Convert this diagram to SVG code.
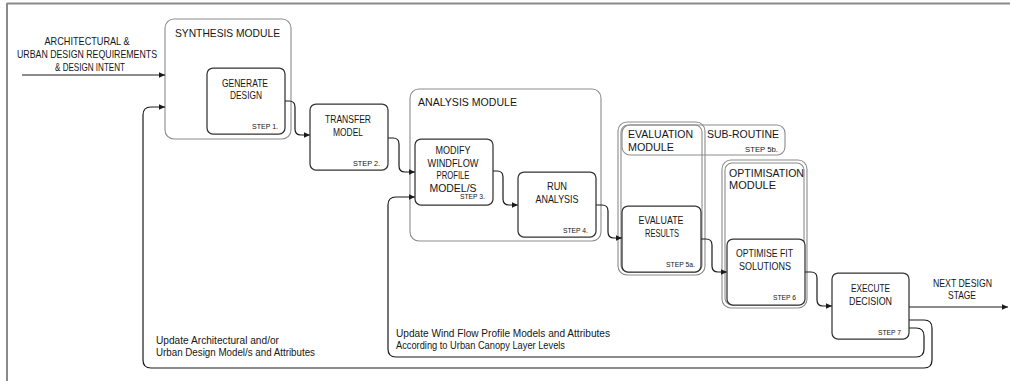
<svg xmlns="http://www.w3.org/2000/svg" width="1010" height="381" viewBox="0 0 1010 381">
<defs>
<marker id="ah" markerUnits="userSpaceOnUse" markerWidth="7" markerHeight="6" refX="6" refY="2.75" orient="auto">
<path d="M0,0 L6,2.75 L0,5.5 z" fill="#1a1a1a"/>
</marker>
<style>
.mod{fill:none;stroke:#8c8c8c;stroke-width:1.1}
.box{fill:#fff;stroke:#333;stroke-width:1.25}
.con{fill:none;stroke:#1a1a1a;stroke-width:1.2;marker-end:url(#ah)}
text{font-family:"Liberation Sans",Arial,sans-serif;fill:#161616}
.t{font-size:11.5px}
.m{font-size:11px;text-anchor:middle}
.s{font-size:7.5px;text-anchor:end}
.in{font-size:10.5px;text-anchor:middle}
.b{font-size:10px}
</style>
</defs>
<g id="frame">
<line x1="7" y1="3.5" x2="1010" y2="3.5" stroke="#8a8a8a" stroke-width="2"/>
<line x1="7" y1="3" x2="7" y2="381" stroke="#8a8a8a" stroke-width="2"/>
</g>
<g id="input-label">
<text class="in" x="87" y="45" textLength="85" lengthAdjust="spacingAndGlyphs">ARCHITECTURAL &amp;</text>
<text class="in" x="87" y="58" textLength="140" lengthAdjust="spacingAndGlyphs">URBAN DESIGN REQUIREMENTS</text>
<text class="in" x="90" y="70.5" textLength="70" lengthAdjust="spacingAndGlyphs">&amp; DESIGN INTENT</text>
</g>
<g id="synthesis-module">
<rect class="mod" x="165" y="19" width="126" height="120" rx="9"/>
<text class="t" x="175" y="37" textLength="105" lengthAdjust="spacingAndGlyphs">SYNTHESIS MODULE</text>
</g>
<g id="analysis-module">
<rect class="mod" x="410" y="89" width="191" height="152" rx="9"/>
<text class="t" x="418" y="106" textLength="99" lengthAdjust="spacingAndGlyphs">ANALYSIS MODULE</text>
</g>
<g id="evaluation-module">
<rect class="mod" x="618" y="122" width="87" height="153" rx="9"/>
<rect class="mod" x="621" y="125" width="81" height="147" rx="7"/>
<text class="t" x="628" y="137.5" textLength="65" lengthAdjust="spacingAndGlyphs">EVALUATION</text>
<text class="t" x="628" y="150.5" textLength="46" lengthAdjust="spacingAndGlyphs">MODULE</text>
</g>
<g id="sub-routine">
<rect class="mod" x="622" y="125" width="163" height="30" rx="8"/>
<text class="t" x="707" y="137.5" textLength="72" lengthAdjust="spacingAndGlyphs">SUB-ROUTINE</text>
<text class="s" x="778" y="151.5" textLength="33" lengthAdjust="spacingAndGlyphs">STEP 5b.</text>
</g>
<g id="optimisation-module">
<rect class="mod" x="722" y="160" width="85" height="148" rx="9"/>
<rect class="mod" x="725" y="163" width="79" height="142" rx="7"/>
<text class="t" x="729" y="176.5" textLength="75" lengthAdjust="spacingAndGlyphs">OPTIMISATION</text>
<text class="t" x="729" y="188.5" textLength="47" lengthAdjust="spacingAndGlyphs">MODULE</text>
</g>
<g id="connectors">
<path class="con" d="M22,75 H165"/>
<path class="con" d="M285,101 H289 Q295,101 295,107 V129 Q295,135 301,135 H310"/>
<path class="con" d="M388,138 H393 Q399,138 399,144 V166 Q399,172 405,172 H415"/>
<path class="con" d="M493,171 H497 Q503,171 503,177 V199 Q503,205 509,205 H518"/>
<path class="con" d="M596,205 H602 Q608,205 608,211 V232 Q608,238 614,238 H622"/>
<path class="con" d="M701,239 H706 Q712,239 712,245 V266 Q712,272 718,272 H727"/>
<path class="con" d="M805,272 H811 Q817,272 817,278 V300 Q817,306 823,306 H832"/>
<path class="con" d="M909,307 H1008"/>
<path class="con" d="M909,320 H924 Q932,320 932,328 V360 Q932,368 924,368 H151 Q143,368 143,360 V115 Q143,107 151,107 H165"/>
<path class="con" d="M909,328 H916 Q924,328 924,336 V349 Q924,357 916,357 H396 Q388,357 388,349 V205 Q388,197 396,197 H415"/>
</g>
<g id="step1-generate-design">
<rect class="box" x="207" y="68" width="78" height="66" rx="6"/>
<text class="m" x="245" y="87.3" textLength="46" lengthAdjust="spacingAndGlyphs">GENERATE</text>
<text class="m" x="246" y="99.3" textLength="32" lengthAdjust="spacingAndGlyphs">DESIGN</text>
<text class="s" x="278" y="129" textLength="26" lengthAdjust="spacingAndGlyphs">STEP 1.</text>
</g>
<g id="step2-transfer-model">
<rect class="box" x="310" y="104" width="78" height="66" rx="6"/>
<text class="m" x="348" y="123" textLength="46" lengthAdjust="spacingAndGlyphs">TRANSFER</text>
<text class="m" x="348" y="135.5" textLength="30" lengthAdjust="spacingAndGlyphs">MODEL</text>
<text class="s" x="380" y="165.5" textLength="27" lengthAdjust="spacingAndGlyphs">STEP 2.</text>
</g>
<g id="step3-modify">
<rect class="box" x="415" y="139" width="78" height="66" rx="6"/>
<text class="m" x="453" y="154" textLength="35" lengthAdjust="spacingAndGlyphs">MODIFY</text>
<text class="m" x="453" y="166.7" textLength="51" lengthAdjust="spacingAndGlyphs">WINDFLOW</text>
<text class="m" x="453" y="179" textLength="33" lengthAdjust="spacingAndGlyphs">PROFILE</text>
<text class="m" x="453" y="192.3" textLength="47" lengthAdjust="spacingAndGlyphs">MODEL/S</text>
<text class="s" x="485" y="199.3" textLength="25" lengthAdjust="spacingAndGlyphs">STEP 3.</text>
</g>
<g id="step4-run-analysis">
<rect class="box" x="518" y="172" width="78" height="65" rx="6"/>
<text class="m" x="557" y="190" textLength="20" lengthAdjust="spacingAndGlyphs">RUN</text>
<text class="m" x="557" y="203.3" textLength="43" lengthAdjust="spacingAndGlyphs">ANALYSIS</text>
<text class="s" x="588" y="232.7" textLength="25" lengthAdjust="spacingAndGlyphs">STEP 4.</text>
</g>
<g id="step5a-evaluate-results">
<rect class="box" x="622" y="206" width="79" height="66" rx="6"/>
<text class="m" x="661" y="224.3" textLength="45" lengthAdjust="spacingAndGlyphs">EVALUATE</text>
<text class="m" x="662" y="237" textLength="34" lengthAdjust="spacingAndGlyphs">RESULTS</text>
<text class="s" x="695" y="267" textLength="29" lengthAdjust="spacingAndGlyphs">STEP 5a.</text>
</g>
<g id="step6-optimise">
<rect class="box" x="727" y="239" width="78" height="66" rx="6"/>
<text class="m" x="764.5" y="257.3" textLength="57" lengthAdjust="spacingAndGlyphs">OPTIMISE FIT</text>
<text class="m" x="765" y="270" textLength="52" lengthAdjust="spacingAndGlyphs">SOLUTIONS</text>
<text class="s" x="796" y="300" textLength="23" lengthAdjust="spacingAndGlyphs">STEP 6</text>
</g>
<g id="step7-execute">
<rect class="box" x="832" y="273" width="77" height="66" rx="6"/>
<text class="m" x="870.5" y="292" textLength="39" lengthAdjust="spacingAndGlyphs">EXECUTE</text>
<text class="m" x="870.5" y="305" textLength="43" lengthAdjust="spacingAndGlyphs">DECISION</text>
<text class="s" x="901" y="335" textLength="23" lengthAdjust="spacingAndGlyphs">STEP 7</text>
</g>
<g id="next-stage-label">
<text class="m" x="962.5" y="287.3" textLength="59" lengthAdjust="spacingAndGlyphs">NEXT DESIGN</text>
<text class="m" x="962" y="299.3" textLength="28" lengthAdjust="spacingAndGlyphs">STAGE</text>
</g>
<g id="loop-labels">
<text class="b" x="156" y="344" textLength="123" lengthAdjust="spacingAndGlyphs">Update Architectural and/or</text>
<text class="b" x="156" y="356" textLength="159" lengthAdjust="spacingAndGlyphs">Urban Design Model/s and Attributes</text>
<text class="b" x="396" y="337" textLength="214" lengthAdjust="spacingAndGlyphs">Update Wind Flow Profile Models and Attributes</text>
<text class="b" x="396" y="349" textLength="169" lengthAdjust="spacingAndGlyphs">According to Urban Canopy Layer Levels</text>
</g>
</svg>
